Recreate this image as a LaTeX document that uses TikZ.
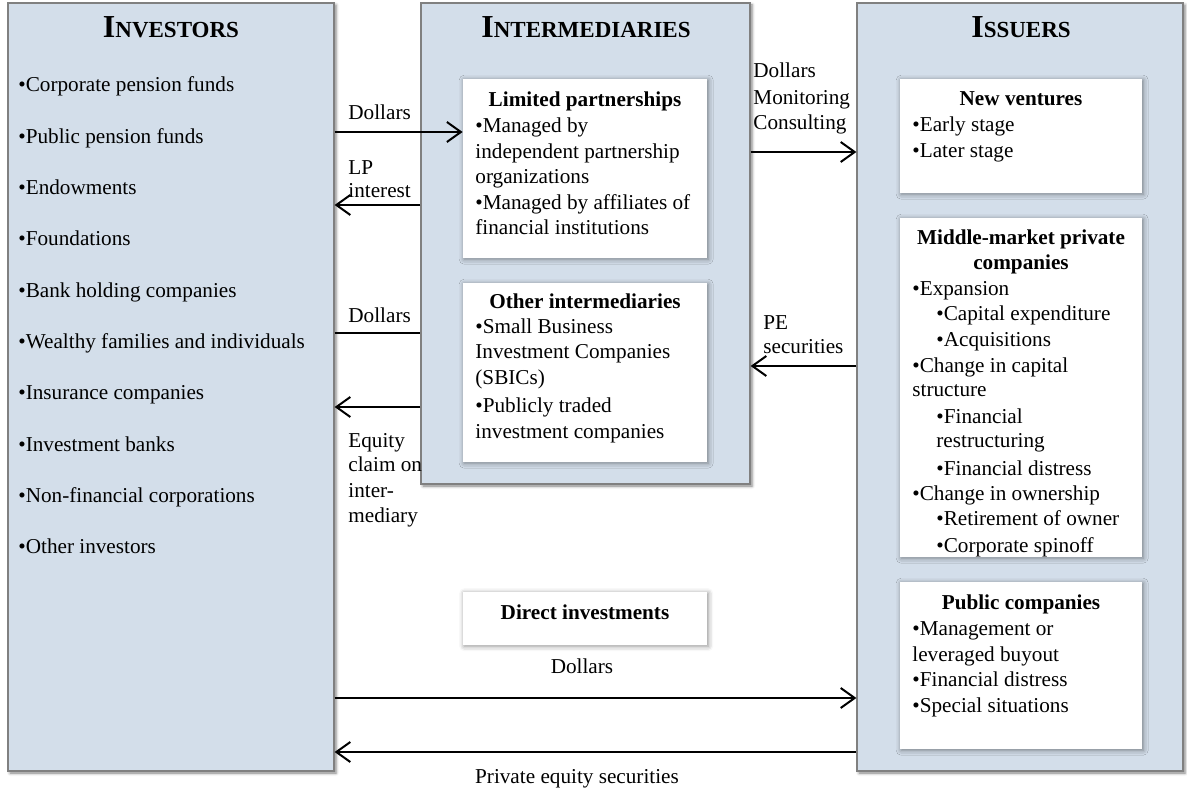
\documentclass[tikz,border=0pt]{standalone}
\usepackage{fontspec}
\setmainfont{Liberation Serif}
\usetikzlibrary{arrows.meta,shadows.blur,fit}
\definecolor{panel}{RGB}{211,222,234}
\definecolor{edge}{RGB}{128,128,128}
\newcommand\mkhead[2]{{\fontsize{16}{16}\selectfont\bfseries #1}{\fontsize{11.5}{12}\selectfont\bfseries #2}}
\begin{document}
\begin{tikzpicture}[x=0.5pt,y=-0.5pt,
  outer/.style={draw=edge, line width=0.6pt, fill=panel, inner sep=0pt,
    blur shadow={shadow xshift=1pt, shadow yshift=-1pt, shadow blur radius=1.5pt, shadow opacity=50}},
  inner/.style={fill=white, inner sep=0pt,
    blur shadow={shadow xshift=0.6pt, shadow yshift=-0.6pt, shadow blur radius=2.5pt, shadow opacity=45}},
  txt/.style={font=\fontsize{10.6}{12.75}\selectfont, inner sep=0pt, anchor=base west},
  ttl/.style={font=\fontsize{10.6}{12.75}\selectfont\bfseries, inner sep=0pt, anchor=base},
  ctxt/.style={font=\fontsize{10.6}{12.75}\selectfont, inner sep=0pt, anchor=base},
  hd/.style={inner sep=0pt, anchor=base},
  arr/.style={-{Straight Barb[length=7pt,width=10pt,line width=1pt]}, line width=1.2pt},
  plain/.style={line width=1.2pt}]
\useasboundingbox (0,0) rectangle (1187,790);

% outer panels
\node[outer, fit={(8,3)(334,771)}] (inv) {};
\node[outer, fit={(421,3)(750,484)}] (inter) {};
\node[outer, fit={(857,3)(1183,771)}] (iss) {};

% inner boxes
\node[inner, fit={(463,79)(707,258)}] (lp) {};
\node[inner, fit={(463,283)(707,462)}] (oi) {};
\node[inner, fit={(463,592)(707,645)}] (di) {};
\node[inner, fit={(900,79)(1142,193)}] (nv) {};
\node[inner, fit={(900,218)(1142,557)}] (mm) {};
\node[inner, fit={(900,582)(1142,749)}] (pc) {};

% headings
\node[hd] (hinv) at (171,38) {\mkhead{I}{NVESTORS}};
\node[hd] (hint) at (586,38) {\mkhead{I}{NTERMEDIARIES}};
\node[hd] (hiss) at (1021,38) {\mkhead{I}{SSUERS}};

% investors list
\foreach \t [count=\i] in {•Corporate pension funds,•Public pension funds,•Endowments,•Foundations,•Bank holding companies,•Wealthy families and individuals,•Insurance companies,•Investment banks,•Non-financial corporations,•Other investors}
  \node[txt, name=invi\i] at (18,{92+(\i-1)*51.3}) {\t};

% limited partnerships
\node[ttl] (lpt) at (585,107) {Limited partnerships};
\foreach \y/\t [count=\i] in {133/{•Managed by},159/{independent partnership},184/{organizations},210/{•Managed by affiliates of},235/{financial institutions}}
  \node[txt, name=lpi\i] at (475,\y) {\t};

% other intermediaries
\node[ttl] (oit) at (585,309) {Other intermediaries};
\foreach \y/\t [count=\i] in {334/{•Small Business},359/{Investment Companies},385/{(SBICs)},413/{•Publicly traded},438/{investment companies}}
  \node[txt, name=oii\i] at (475,\y) {\t};

% direct investments
\node[ttl] (dit) at (585,619) {Direct investments};

% new ventures
\node[ttl] (nvt) at (1021,106) {New ventures};
\node[txt] (nv1) at (912,132) {•Early stage};
\node[txt] (nv2) at (912,158) {•Later stage};

% middle market
\node[ttl] (mmt1) at (1021,245) {Middle-market private};
\node[ttl] (mmt2) at (1021,270) {companies};
\foreach \x/\y/\t [count=\i] in {912/296/{•Expansion},936/321/{•Capital expenditure},936/347/{•Acquisitions},912/373/{•Change in capital},912/397/{structure},936/423/{•Financial},936/448/{restructuring},936/475/{•Financial distress},912/500/{•Change in ownership},936/525/{•Retirement of owner},936/552/{•Corporate spinoff}}
  \node[txt, name=mmi\i] at (\x,\y) {\t};

% public companies
\node[ttl] (pct) at (1021,609) {Public companies};
\foreach \y/\t [count=\i] in {635/{•Management or},661/{leveraged buyout},686/{•Financial distress},712/{•Special situations}}
  \node[txt, name=pci\i] at (912,\y) {\t};

% connectors
\draw[arr] (inv.east |- 0,132) -- (lp.west |- 0,132);
\draw[arr] (inter.west |- 0,205) -- (inv.east |- 0,205);
\draw[plain] (inv.east |- 0,333) -- (inter.west |- 0,333);
\draw[arr] (inter.west |- 0,407) -- (inv.east |- 0,407);
\draw[arr] (inter.east |- 0,152) -- (iss.west |- 0,152);
\draw[arr] (iss.west |- 0,366) -- (inter.east |- 0,366);
\draw[arr] (inv.east |- 0,698) -- (iss.west |- 0,698);
\draw[arr] (iss.west |- 0,752) -- (inv.east |- 0,752);

% connector labels
\node[txt] (l1) at (348,120) {Dollars};
\node[txt] (l2a) at (348,175) {LP};
\node[txt] (l2b) at (348,198) {interest};
\node[txt] (l3) at (348,323) {Dollars};
\node[txt] (l4a) at (348,447) {Equity};
\node[txt] (l4b) at (348,472) {claim on};
\node[txt] (l4c) at (348,497) {inter-};
\node[txt] (l4d) at (348,522) {mediary};
\node[txt] (l5a) at (753,78) {Dollars};
\node[txt] (l5b) at (753,105) {Monitoring};
\node[txt] (l5c) at (753,130) {Consulting};
\node[txt] (l6a) at (763,330) {PE};
\node[txt] (l6b) at (763,354) {securities};
\node[ctxt] (l7) at (582,673) {Dollars};
\node[ctxt] (l8) at (577,783) {Private equity securities};
\end{tikzpicture}
\end{document}
